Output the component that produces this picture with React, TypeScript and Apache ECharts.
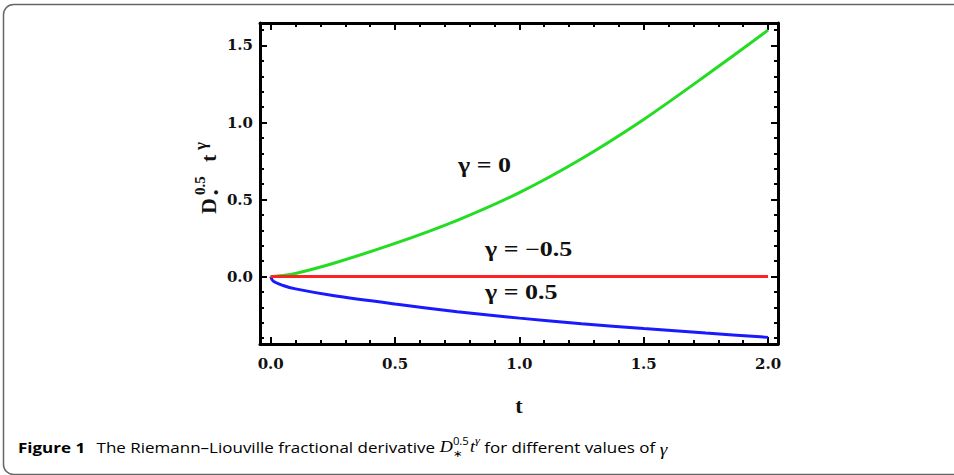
import React, { useEffect, useRef } from "react";
import * as echarts from "echarts";

// ---- data ----
const T = [0, 0.01, 0.05, 0.1, 0.25, 0.5, 0.75, 1, 1.25, 1.5, 1.75, 2];
const GAMMA_0 = [0, 0.0006, 0.006, 0.02, 0.085, 0.215, 0.365, 0.545, 0.765, 1.02, 1.305, 1.6];
const GAMMA_M05 = [0, 0, 0, 0, 0, 0, 0, 0, 0, 0, 0, 0];
const GAMMA_05 = [0, -0.03, -0.058, -0.08, -0.123, -0.178, -0.228, -0.27, -0.306, -0.338, -0.367, -0.395];

const X_MAJOR = [0, 0.5, 1, 1.5, 2];
const X_MINOR = [0.1, 0.2, 0.3, 0.4, 0.6, 0.7, 0.8, 0.9, 1.1, 1.2, 1.3, 1.4, 1.6, 1.7, 1.8, 1.9];
const Y_MAJOR = [0, 0.5, 1, 1.5];
const Y_MINOR = [-0.4, -0.3, -0.2, -0.1, 0.1, 0.2, 0.3, 0.4, 0.6, 0.7, 0.8, 0.9, 1.1, 1.2, 1.3, 1.4, 1.6];

const X_MIN = -0.043;
const X_MAX = 2.04;
const Y_MIN = -0.438;
const Y_MAX = 1.646;

const SERIES_LABELS = ["γ = 0", "γ = −0.5", "γ = 0.5"];
const CAPTION_BOLD = "Figure 1";
const CAPTION_TEXT = "The Riemann–Liouville fractional derivative ";
const CAPTION_TAIL = " for different values of ";

const pair = (ys: number[]) => T.map((t, i) => [t, ys[i]]);

function measure(text: string, font: string) {
  const c = document.createElement("canvas").getContext("2d")!;
  c.font = font;
  return c.measureText(text).width;
}

function buildCaption() {
  const sans = '"Open Sans"';
  const serif = '"Liberation Serif"';
  const fBold = `bold 15px ${sans}`;
  const fNorm = `normal 15px ${sans}`;
  const fIt = `italic 16px ${serif}`;
  const fSmall = `normal 10px ${sans}`;
  const fItSmall = `italic 11px ${serif}`;
  const children: any[] = [];
  let x = 0;
  const add = (text: string, font: string, style: string, weight: string, size: number, family: string, dy = 0, advance = true) => {
    children.push({
      type: "text",
      x,
      y: dy,
      style: {
        text,
        fontFamily: family,
        fontSize: size,
        fontStyle: style,
        fontWeight: weight,
        fill: "#000",
        textVerticalAlign: "middle",
        textAlign: "left",
      },
    });
    const w = measure(text, font);
    if (advance) x += w;
    return w;
  };
  add(CAPTION_BOLD, fBold, "normal", "bold", 15, sans);
  x += 10;
  add(CAPTION_TEXT, fNorm, "normal", "normal", 15, sans);
  add("D", fIt, "italic", "normal", 16, serif);
  const x0 = x;
  const w1 = add("0.5", fSmall, "normal", "normal", 10, sans, -6, false);
  add("∗", fSmall, "normal", "normal", 10, sans, 6, false);
  x = x0 + w1 + 1;
  add("t", fIt, "italic", "normal", 16, serif);
  add("γ", fItSmall, "italic", "normal", 11, serif, -6);
  add(CAPTION_TAIL, fNorm, "normal", "normal", 15, sans);
  add("γ", fIt, "italic", "normal", 17, serif, 2);
  const target = 667 - 18;
  return { children, scale: target / x };
}

export default function App() {
  const ref = useRef<HTMLDivElement>(null);
  useEffect(() => {
    if (!ref.current) return;
    const chart = echarts.init(ref.current, null, { renderer: "svg" });
    const cap = buildCaption();
    const serif = '"Liberation Serif"';
    const labelFont = { fontFamily: '"DejaVu Serif"', fontWeight: "bold", fontSize: 15, color: "#111" };
    const axisBase = {
      type: "value",
      min: X_MIN,
      max: X_MAX,
      gridIndex: 0,
      offset: 0,
      splitLine: { show: false },
    };
    const major = (vals: number[]) => ({
      show: true,
      inside: true,
      length: 7,
      customValues: vals,
      lineStyle: { color: "#000", width: 2 },
    });
    const minor = (vals: number[]) => ({
      show: true,
      inside: true,
      length: 4,
      customValues: vals,
      lineStyle: { color: "#000", width: 2 },
    });
    const line = { show: true, onZero: false, lineStyle: { color: "#000", width: 3 } };
    const hidden = { show: false, onZero: false };
    const noLabel = { show: false };

    const xAxis = [
      {
        ...axisBase,
        position: "bottom",
        axisLine: line,
        axisTick: major(X_MAJOR),
        axisLabel: { ...labelFont, margin: 12, customValues: X_MAJOR, formatter: (v: number) => v.toFixed(1) },
        name: "t",
        nameLocation: "middle",
        nameGap: 50,
        nameTextStyle: { fontFamily: serif, fontWeight: "bold", fontSize: 22, color: "#111" },
      },
      { ...axisBase, position: "bottom", axisLine: hidden, axisTick: minor(X_MINOR), axisLabel: noLabel },
      { ...axisBase, position: "top", axisLine: line, axisTick: major(X_MAJOR), axisLabel: noLabel },
      { ...axisBase, position: "top", axisLine: hidden, axisTick: minor(X_MINOR), axisLabel: noLabel },
    ];
    const yBase = { ...axisBase, min: Y_MIN, max: Y_MAX };
    const yAxis = [
      {
        ...yBase,
        position: "left",
        axisLine: line,
        axisTick: major(Y_MAJOR),
        axisLabel: { ...labelFont, margin: 7, customValues: Y_MAJOR, formatter: (v: number) => v.toFixed(1) },
      },
      { ...yBase, position: "left", axisLine: hidden, axisTick: minor(Y_MINOR), axisLabel: noLabel },
      { ...yBase, position: "right", axisLine: line, axisTick: major(Y_MAJOR), axisLabel: noLabel },
      { ...yBase, position: "right", axisLine: hidden, axisTick: minor(Y_MINOR), axisLabel: noLabel },
    ];

    const mk = (name: string, ys: number[], color: string, z: number) => ({
      name,
      type: "line",
      data: pair(ys),
      xAxisIndex: 0,
      yAxisIndex: 0,
      showSymbol: false,
      symbol: "none",
      smooth: 0.3,
      z,
      lineStyle: { color, width: 3 },
    });

    const seriesLabel = (text: string, x: number, y: number) => ({
      type: "text",
      x,
      y,
      scaleX: 1.3,
      style: {
        text,
        fontFamily: serif,
        fontWeight: "bold",
        fontSize: 20,
        fill: "#111",
        textVerticalAlign: "middle",
        textAlign: "left",
      },
    });

    const yTitle = {
      type: "group",
      x: 208,
      y: 214,
      rotation: Math.PI / 2,
      children: [
        { type: "text", x: 0, y: 0, style: { text: "D", fontFamily: serif, fontWeight: "bold", fontSize: 22, fill: "#111", textVerticalAlign: "middle" } },
        { type: "text", x: 19, y: -8, style: { text: "0.5", fontFamily: serif, fontWeight: "bold", fontSize: 15, fill: "#111", textVerticalAlign: "middle" } },
        { type: "text", x: 19, y: 8, style: { text: "•", fontFamily: serif, fontWeight: "bold", fontSize: 15, fill: "#111", textVerticalAlign: "middle" } },
        { type: "text", x: 52, y: 0, style: { text: "t", fontFamily: serif, fontWeight: "bold", fontSize: 22, fill: "#111", textVerticalAlign: "middle" } },
        { type: "text", x: 64, y: -8, style: { text: "γ", fontFamily: serif, fontWeight: "bold", fontSize: 17, fill: "#111", textVerticalAlign: "middle" } },
      ],
    };

    chart.setOption({
      animation: false,
      backgroundColor: "#fff",
      grid: { left: 260, top: 23, width: 518, height: 321, containLabel: false },
      xAxis,
      yAxis,
      series: [
        mk("γ = 0.5", GAMMA_05, "#1a1aff", 3),
        mk("γ = 0", GAMMA_0, "#22dd22", 3),
        mk("γ = −0.5", GAMMA_M05, "#ff2222", 4),
      ],
      graphic: [
        {
          type: "rect",
          shape: { x: 3.5, y: 4.5, width: 1000, height: 470, r: 10 },
          style: { fill: "none", stroke: "#666", lineWidth: 1.5 },
          silent: true,
        },
        seriesLabel(SERIES_LABELS[0], 458, 165),
        seriesLabel(SERIES_LABELS[1], 485, 249),
        seriesLabel(SERIES_LABELS[2], 485, 292),
        yTitle,
        { type: "group", x: 18, y: 447, scaleX: cap.scale, children: cap.children },
      ],
    });
    return () => chart.dispose();
  }, []);
  return <div ref={ref} style={{ position: "absolute", left: 0, top: 0, width: 954, height: 475 }} />;
}
